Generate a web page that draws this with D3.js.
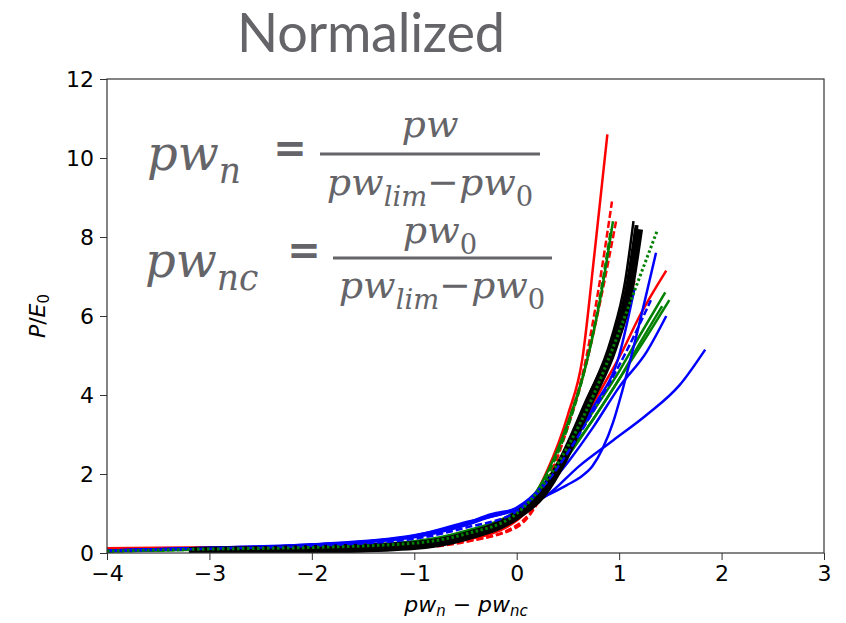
<!DOCTYPE html>
<html>
<head>
<meta charset="utf-8">
<script src="https://cdn.jsdelivr.net/npm/d3@7"></script>
<style>
  body { margin: 0; background: #fff; }
  svg { display: block; }
</style>
</head>
<body>
<div id="chart"></div>
<script>
// axis ticks
const xTicks = [-4, -3, -2, -1, 0, 1, 2, 3];
const yTicks = [0, 2, 4, 6, 8, 10, 12];

// curves, [pw_n - pw_nc, P/E0]
const redTall = [[-4,0.12],[-3,0.14],[-2,0.16],[-1,0.22],[-0.5,0.38],[0,0.85],[0.3,2.1],[0.5,3.5],[0.64,4.9],[0.76,7.6],[0.885,10.6]];
const redDashA = [[-4,0.1],[-3,0.11],[-2,0.12],[-1,0.15],[-0.5,0.3],[0,0.65],[0.25,1.5],[0.5,3.3],[0.65,4.6],[0.8,6.7],[0.93,8.9]];
const redDashB = [[-4,0.09],[-3,0.1],[-2,0.11],[-1,0.14],[-0.5,0.28],[0,0.7],[0.25,1.5],[0.5,3.2],[0.68,4.8],[0.85,6.8],[0.97,8.4]];
const redRight = [[-4,0.11],[-3,0.13],[-2,0.15],[-1,0.2],[-0.5,0.36],[0,0.9],[0.25,1.6],[0.5,2.6],[0.75,3.8],[1.03,5.1],[1.2,6.0],[1.46,7.15]];
const redMid = [[-4,0.1],[-3,0.12],[-2,0.14],[-1,0.19],[-0.5,0.33],[0,0.82],[0.25,1.55],[0.5,2.6],[0.75,3.9],[1.0,5.6],[1.15,6.9]];
const greenTall = [[-4,0.05],[-3,0.1],[-2,0.14],[-1,0.26],[-0.5,0.5],[0,1.0],[0.25,1.8],[0.5,3.3],[0.68,4.8],[0.82,6.5],[0.94,8.4]];
const greenDashTall = [[-4,0.04],[-3,0.09],[-2,0.13],[-1,0.24],[-0.5,0.46],[0,0.95],[0.25,1.75],[0.5,3.2],[0.66,4.6],[0.8,6.3],[0.92,8.2]];
const greenDotted = [[-4,0.05],[-3,0.1],[-2,0.14],[-1,0.25],[-0.5,0.48],[0,1.0],[0.25,1.7],[0.5,2.7],[0.75,4.0],[1.0,5.6],[1.13,6.5],[1.37,8.15]];
const greenR1 = [[-4,0.04],[-3,0.09],[-2,0.13],[-1,0.27],[-0.5,0.52],[0,1.02],[0.25,1.7],[0.5,2.6],[0.75,3.6],[1.0,4.6],[1.2,5.5],[1.45,6.6]];
const greenR2 = [[-4,0.05],[-3,0.1],[-2,0.14],[-1,0.28],[-0.5,0.54],[0,1.05],[0.25,1.65],[0.5,2.45],[0.75,3.4],[1.0,4.4],[1.25,5.4],[1.49,6.4]];
const greenR3 = [[-4,0.06],[-3,0.1],[-2,0.15],[-1,0.3],[-0.5,0.56],[0,1.08],[0.25,1.7],[0.5,2.5],[0.75,3.4],[1.0,4.4],[1.2,5.3],[1.42,6.25]];
const blueS = [[-4,0.06],[-3,0.13],[-2,0.22],[-1,0.45],[-0.5,0.75],[-0.25,0.98],[0,1.12],[0.29,1.45],[0.49,1.72],[0.61,1.9],[0.74,2.2],[0.84,2.65],[0.94,3.3],[1.03,4.1],[1.13,5.1],[1.36,7.6]];
const blueLong = [[-4,0.05],[-3,0.12],[-2,0.2],[-1,0.42],[-0.5,0.72],[-0.25,0.95],[0,1.1],[0.29,1.45],[0.61,2.2],[0.94,2.85],[1.27,3.5],[1.59,4.25],[1.84,5.15]];
const blueA = [[-4,0.06],[-3,0.12],[-2,0.2],[-1,0.4],[-0.5,0.7],[-0.25,0.92],[0,1.1],[0.25,1.55],[0.5,2.3],[0.75,3.2],[1.0,4.2],[1.27,5.1],[1.46,6.0]];
const blueB = [[-4,0.06],[-3,0.13],[-2,0.21],[-1,0.44],[-0.5,0.78],[0,1.15],[0.25,1.7],[0.5,2.6],[0.75,3.7],[1.0,5.0],[1.15,6.7]];
const blueDash = [[-4,0.05],[-3,0.11],[-2,0.18],[-1,0.36],[-0.5,0.64],[0,1.05],[0.25,1.65],[0.5,2.55],[0.75,3.6],[1.07,5.1],[1.31,6.4]];
const blackMain = [[-3.2,0.04],[-2,0.09],[-1,0.19],[-0.5,0.42],[0,0.95],[0.25,1.5],[0.45,2.35],[0.71,3.85],[0.94,5.2],[1.1,6.7],[1.19,8.2]];
const blackThin = [[-3.2,0.05],[-2,0.1],[-1,0.2],[-0.5,0.44],[0,0.98],[0.25,1.55],[0.45,2.4],[0.7,3.95],[0.92,5.4],[1.06,6.9],[1.14,8.4]];
const blackThin2 = [[-3.2,0.04],[-2,0.09],[-1,0.18],[-0.5,0.4],[0,0.93],[0.25,1.47],[0.45,2.3],[0.72,3.8],[0.95,5.2],[1.1,6.6],[1.17,8.3]];

const width = 846, height = 623;
const margin = {top: 79, right: 22, bottom: 70, left: 107};
const grey = '#646469';

const svg = d3.select('#chart').append('svg')
  .attr('width', width)
  .attr('height', height);

const x = d3.scaleLinear().domain([-4, 3]).range([margin.left, width - margin.right]);
const y = d3.scaleLinear().domain([0, 12]).range([height - margin.bottom, margin.top]);

// title
svg.append('text')
  .attr('x', 371).attr('y', 52)
  .attr('text-anchor', 'middle')
  .attr('font-family', 'Lato, sans-serif')
  .attr('font-size', 54)
  .attr('fill', grey)
  .attr('textLength', 268)
  .text('Normalized');

svg.append('clipPath').attr('id', 'plotClip')
  .append('rect')
  .attr('x', margin.left).attr('y', margin.top)
  .attr('width', width - margin.left - margin.right)
  .attr('height', height - margin.top - margin.bottom);

const line = d3.line()
  .x(d => x(d[0]))
  .y(d => y(d[1]))
  .curve(d3.curveMonotoneX);

const series = [
  {data: redTall, color: '#ff0000'},
  {data: redDashA, color: '#ff0000', dash: '7,3'},
  {data: redDashB, color: '#ff0000', dash: '7,3'},
  {data: greenTall, color: '#008000'},
  {data: greenDashTall, color: '#008000', dash: '7,3'},
  {data: redRight, color: '#ff0000'},
  {data: redMid, color: '#ff0000'},
  {data: greenR1, color: '#008000'},
  {data: greenR2, color: '#008000'},
  {data: greenR3, color: '#008000'},
  {data: blueS, color: '#0000ff'},
  {data: blueLong, color: '#0000ff'},
  {data: blueA, color: '#0000ff'},
  {data: blueB, color: '#0000ff'},
  {data: blackThin2, color: '#000000', w: 4},
  {data: blackMain, color: '#000000', w: 9},
  {data: blackThin, color: '#000000', w: 2.5},
  {data: blueDash, color: '#0000ff', dash: '7,3'},
  {data: greenDotted, color: '#008000', dash: '2.5,2.5', w: 3}
];

const lineGroup = svg.append('g')
  .attr('class', 'line-group')
  .attr('clip-path', 'url(#plotClip)');

lineGroup.selectAll('path')
  .data(series)
  .join('path')
  .attr('d', d => line(d.data))
  .attr('fill', 'none')
  .attr('stroke', d => d.color)
  .attr('stroke-width', d => d.w || 2.5)
  .attr('stroke-dasharray', d => d.dash || null)
  .attr('stroke-linejoin', 'round');

// axes
let axisGroup = svg.append('g').attr('class', 'axis-group');
axisGroup.append('g')
  .attr('transform', `translate(0,${height - margin.bottom})`)
  .call(d3.axisBottom(x).tickValues(xTicks).tickSize(7).tickSizeOuter(0).tickPadding(5).tickFormat(d3.format('d')));
axisGroup.append('g')
  .attr('transform', `translate(${margin.left},0)`)
  .call(d3.axisLeft(y).tickValues(yTicks).tickSize(7).tickSizeOuter(0).tickPadding(6).tickFormat(d3.format('d')));
axisGroup.selectAll('.domain').remove();
axisGroup.selectAll('.tick line').attr('stroke', '#333');
axisGroup.selectAll('.tick text')
  .attr('font-family', 'DejaVu Sans, sans-serif')
  .attr('font-size', 22)
  .attr('fill', '#000');

svg.append('rect')
  .attr('x', margin.left).attr('y', margin.top)
  .attr('width', width - margin.left - margin.right)
  .attr('height', height - margin.top - margin.bottom)
  .attr('fill', 'none')
  .attr('stroke', '#333')
  .attr('stroke-width', 1.2);

// axis labels
const xLab = svg.append('text')
  .attr('x', 466).attr('y', 612)
  .attr('text-anchor', 'middle')
  .attr('font-family', 'DejaVu Sans, sans-serif')
  .attr('font-size', 22);
xLab.append('tspan').attr('font-style', 'italic').text('pw');
xLab.append('tspan').attr('font-style', 'italic').attr('font-size', 15).attr('dy', 4).text('n');
xLab.append('tspan').attr('dy', -4).text(' − ');
xLab.append('tspan').attr('font-style', 'italic').text('pw');
xLab.append('tspan').attr('font-style', 'italic').attr('font-size', 15).attr('dy', 4).text('nc');

const yLab = svg.append('text')
  .attr('transform', 'translate(45,316) rotate(-90)')
  .attr('text-anchor', 'middle')
  .attr('font-family', 'DejaVu Sans, sans-serif')
  .attr('font-size', 22);
yLab.append('tspan').attr('font-style', 'italic').text('P');
yLab.append('tspan').text('/');
yLab.append('tspan').attr('font-style', 'italic').text('E');
yLab.append('tspan').attr('font-size', 15).attr('dy', 4).text('0');

// formulas
const fFont = 'DejaVu Serif, serif';

function mathText(px, py, size, anchor, parts) {
  const t = svg.append('text')
    .attr('x', px).attr('y', py)
    .attr('text-anchor', anchor)
    .attr('font-family', fFont)
    .attr('font-size', size)
    .attr('fill', grey);
  let shift = 0;
  parts.forEach(p => {
    const s = t.append('tspan').text(p.t);
    const want = p.sub ? size * 0.28 : 0;
    s.attr('dy', want - shift);
    shift = want;
    if (p.sub) s.attr('font-size', size * 0.72);
    s.attr('font-style', p.up ? 'normal' : 'italic');
  });
  return t;
}

function eq(px, py) {
  svg.append('text')
    .attr('x', px).attr('y', py)
    .attr('text-anchor', 'middle')
    .attr('font-family', 'DejaVu Sans, sans-serif')
    .attr('font-weight', 'bold')
    .attr('font-size', 40)
    .attr('fill', grey)
    .text('=');
}

function fracLine(x1, x2, py) {
  svg.append('line')
    .attr('x1', x1).attr('x2', x2)
    .attr('y1', py).attr('y2', py)
    .attr('stroke', grey)
    .attr('stroke-width', 3);
}

const denom = [{t: 'pw'}, {t: 'lim', sub: true}, {t: '−', up: true}, {t: 'pw'}, {t: '0', sub: true, up: true}];

mathText(147, 170, 48, 'start', [{t: 'pw'}, {t: 'n', sub: true}]);
eq(290, 162);
fracLine(320, 540, 154);
mathText(430, 137, 38, 'middle', [{t: 'pw'}]);
mathText(430, 195, 38, 'middle', denom);

mathText(145, 277, 48, 'start', [{t: 'pw'}, {t: 'nc', sub: true}]);
eq(304, 264);
fracLine(333, 552, 258);
mathText(440, 243, 38, 'middle', [{t: 'pw'}, {t: '0', sub: true, up: true}]);
mathText(442, 298, 38, 'middle', denom);
</script>
</body>
</html>
